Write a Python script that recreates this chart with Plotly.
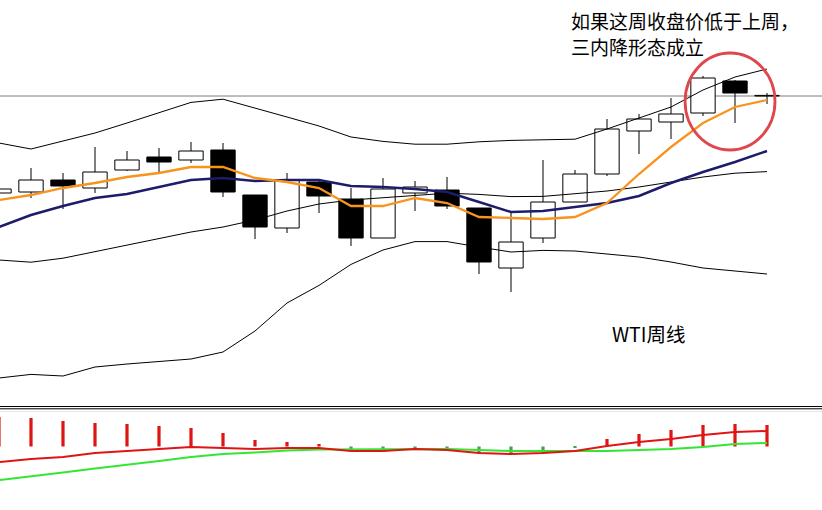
import plotly.graph_objects as go

# ---------------- data ----------------
weeks = list(range(25))
open_ = [70.35, 70.40, 71.00, 70.60, 71.50, 72.15, 72.00, 72.50, 70.25, 68.60, 70.90, 70.05, 68.10,
         70.35, 70.50, 69.60, 66.60, 68.10, 69.90, 71.30, 73.45, 73.90, 74.35, 75.95, 75.20]
high = [70.70, 71.60, 71.35, 72.65, 72.45, 72.60, 72.90, 72.85, 70.25, 71.35, 71.05, 70.60, 71.10,
        70.95, 71.15, 69.60, 69.40, 72.00, 71.50, 74.05, 74.30, 75.10, 76.20, 76.00, 75.35]
low = [70.20, 70.10, 69.55, 70.35, 71.45, 71.40, 71.85, 70.15, 68.05, 68.35, 69.35, 67.70, 68.10,
       69.45, 69.55, 66.30, 65.40, 67.85, 69.90, 71.20, 72.30, 73.05, 74.20, 73.85, 74.80]
close = [70.55, 71.00, 70.70, 71.40, 72.00, 71.90, 72.45, 70.40, 68.65, 71.00, 70.20, 68.10, 70.55,
         70.65, 69.70, 66.90, 67.90, 69.90, 71.30, 73.55, 74.05, 74.30, 76.10, 75.35, 75.20]

ma_fast = [70.00, 70.25, 70.60, 70.85, 71.15, 71.35, 71.65, 71.65, 71.10, 70.90, 70.60, 69.70, 69.70,
           70.10, 69.85, 69.15, 69.10, 69.05, 69.15, 69.85, 71.30, 72.65, 73.85, 74.65, 75.00]
ma_slow = [68.65, 69.25, 69.70, 70.10, 70.30, 70.65, 71.00, 71.10, 70.95, 71.00, 71.00, 70.70, 70.65,
           70.55, 70.40, 69.90, 69.40, 69.45, 69.65, 69.85, 70.20, 70.85, 71.40, 71.90, 72.45]

bb_upper = [72.85, 72.55, 72.95, 73.35, 73.85, 74.35, 74.88, 75.04, 74.58, 74.15, 73.70, 73.15, 72.93,
            72.79, 72.79, 72.91, 72.98, 73.00, 73.04, 73.55, 74.10, 74.65, 75.50, 76.15, 76.55]
bb_mid = [67.00, 66.89, 67.09, 67.42, 67.75, 68.08, 68.40, 68.65, 69.00, 69.45, 69.80, 70.00, 70.12,
          70.25, 70.34, 70.28, 70.17, 70.18, 70.30, 70.45, 70.65, 70.90, 71.15, 71.34, 71.42]
bb_lower = [61.10, 61.28, 61.20, 61.65, 61.80, 61.93, 62.05, 62.40, 63.45, 64.85, 65.73, 66.78, 67.50,
            67.92, 67.92, 67.65, 67.40, 67.48, 67.45, 67.30, 67.15, 66.90, 66.60, 66.45, 66.30]

last_price = 75.20

osc_hist = [0.59, 0.57, 0.51, 0.47, 0.45, 0.41, 0.37, 0.27, 0.13, 0.09, 0.05, -0.05, -0.05,
            -0.07, -0.07, -0.13, -0.13, -0.13, -0.02, 0.15, 0.25, 0.33, 0.43, 0.45, 0.43]
osc_red = [-0.31, -0.25, -0.21, -0.13, -0.09, -0.05, -0.01, -0.03, -0.05, -0.03, -0.03, -0.09, -0.09,
           -0.05, -0.07, -0.13, -0.15, -0.13, -0.09, 0.01, 0.09, 0.15, 0.23, 0.29, 0.31]
osc_green = [-0.67, -0.60, -0.52, -0.44, -0.37, -0.29, -0.21, -0.15, -0.12, -0.08, -0.06, -0.06, -0.05,
             -0.05, -0.05, -0.07, -0.09, -0.09, -0.09, -0.09, -0.07, -0.05, -0.01, 0.05, 0.07]

note_line1 = "如果这周收盘价低于上周，"
note_line2 = "三内降形态成立"
chart_label = "WTI周线"

# ---------------- figure ----------------
fig = go.Figure()

# Bollinger bands
for band in (bb_upper, bb_mid, bb_lower):
    fig.add_trace(go.Scatter(x=weeks, y=band, mode="lines",
                             line=dict(color="black", width=1), hoverinfo="skip"))

# wicks (split so they do not cross white bodies)
wx, wy = [], []
for i in weeks:
    top = max(open_[i], close[i])
    bot = min(open_[i], close[i])
    if high[i] > top:
        wx += [i, i, None]
        wy += [top, high[i], None]
    if low[i] < bot:
        wx += [i, i, None]
        wy += [low[i], bot, None]
fig.add_trace(go.Scatter(x=wx, y=wy, mode="lines", line=dict(color="black", width=1),
                         hoverinfo="skip"))

# bodies
base = [min(o, c) for o, c in zip(open_, close)]
height = [max(abs(c - o), 0.03) for o, c in zip(open_, close)]
colors = ["white" if c >= o else "black" for o, c in zip(open_, close)]
fig.add_trace(go.Bar(x=weeks, y=height, base=base, width=0.76,
                     marker=dict(color=colors, line=dict(color="black", width=1))))

# moving averages
fig.add_trace(go.Scatter(x=weeks, y=ma_slow, mode="lines",
                         line=dict(color="#1c1c6b", width=2.5)))
fig.add_trace(go.Scatter(x=weeks, y=ma_fast, mode="lines",
                         line=dict(color="#F7941D", width=2.3)))

# lower panel oscillator
hcol = ["#e01414" if v >= 0 else "#4f9a4f" for v in osc_hist]
fig.add_trace(go.Bar(x=weeks, y=osc_hist, width=0.1, marker=dict(color=hcol, line=dict(width=0)),
                     xaxis="x", yaxis="y2"))
fig.add_trace(go.Scatter(x=weeks, y=osc_green, mode="lines", line=dict(color="#33e633", width=2),
                         xaxis="x", yaxis="y2"))
fig.add_trace(go.Scatter(x=weeks, y=osc_red, mode="lines", line=dict(color="#e01414", width=2),
                         xaxis="x", yaxis="y2"))

W, H = 822, 510
shapes = [
    dict(type="line", xref="paper", yref="y", x0=0, x1=1, y0=last_price, y1=last_price,
         line=dict(color="#7a7a7a", width=1), layer="below"),
    dict(type="line", xref="paper", yref="paper", x0=0, x1=1, y0=1 - 406.5 / H, y1=1 - 406.5 / H,
         line=dict(color="black", width=1)),
    dict(type="line", xref="paper", yref="paper", x0=0, x1=1, y0=1 - 408.8 / H, y1=1 - 408.8 / H,
         line=dict(color="black", width=1)),
    dict(type="line", xref="paper", yref="paper", x0=0, x1=1, y0=1 - 411.5 / H, y1=1 - 411.5 / H,
         line=dict(color="#e6e6e6", width=1)),
    dict(type="circle", xref="x", yref="y", x0=21.44, x1=24.25, y0=72.5, y1=77.35,
         line=dict(color="#e0474c", width=2.8)),
]

annotations = [
    dict(text=note_line1, xref="paper", yref="paper", x=569 / W, y=1 - 21 / H,
         xanchor="left", yanchor="middle", showarrow=False,
         font=dict(family="Noto Sans CJK SC", size=19, color="black")),
    dict(text=note_line2, xref="paper", yref="paper", x=569 / W, y=1 - 46 / H,
         xanchor="left", yanchor="middle", showarrow=False,
         font=dict(family="Noto Sans CJK SC", size=19, color="black")),
    dict(text=chart_label, xref="paper", yref="paper", x=649 / W, y=1 - 333 / H,
         xanchor="center", yanchor="middle", showarrow=False,
         font=dict(family="Noto Sans CJK SC", size=19.5, color="black")),
]

axis_off = dict(showgrid=False, zeroline=False, showticklabels=False, showline=False, ticks="")
fig.update_layout(
    width=W, height=H, margin=dict(l=0, r=0, t=0, b=0),
    paper_bgcolor="white", plot_bgcolor="white",
    showlegend=False, barmode="overlay",
    xaxis=dict(range=[1 / 32, 823 / 32], **axis_off),
    yaxis=dict(domain=[1 - 404 / H, 1], range=[59.8, 80], **axis_off),
    yaxis2=dict(domain=[0, 1 - 411 / H], range=[-1.27, 0.71], **axis_off),
    shapes=shapes, annotations=annotations,
)

fig.write_html("out.html", config={"displayModeBar": False},
               post_script="document.body.style.margin='0';document.body.style.overflow='hidden';")
